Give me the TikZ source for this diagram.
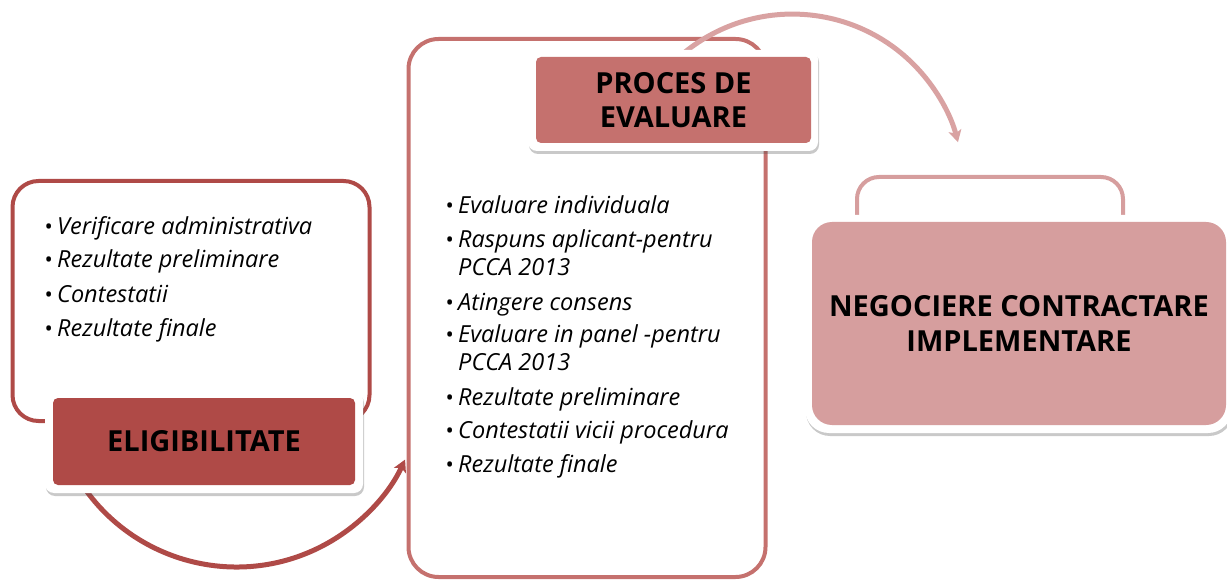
\documentclass[tikz,border=0pt]{standalone}
\usepackage{fontspec}
\setmainfont{Open Sans}
\usetikzlibrary{shadows,arrows.meta}
\definecolor{cA}{HTML}{AF4A47}
\definecolor{cB}{HTML}{C5716E}
\definecolor{cC}{HTML}{D69E9E}
\definecolor{cD}{HTML}{D9A2A2}
\tikzset{
  outl/.style={draw, line width=4pt, rounded corners=26pt, inner sep=0pt},
  frm/.style={fill=white, rounded corners=9pt, inner sep=0pt,
    drop shadow={shadow xshift=1pt, shadow yshift=-3pt, opacity=0.3, fill=black!70}},
  fil/.style={rounded corners=5pt, inner sep=0pt, align=center, text=black,
    font=\fontsize{29}{34.5}\selectfont\bfseries},
  lt/.style={anchor=base west, inner sep=0pt, font=\fontsize{23.5}{28}\selectfont\itshape},
  bt/.style={anchor=base east, inner sep=0pt, font=\fontsize{22}{26}\selectfont},
  arr/.style={line width=5pt, -{Stealth[length=12pt,width=13pt,inset=3pt]}}
}
\begin{document}
\begin{tikzpicture}[x=1pt,y=-1pt]
\useasboundingbox (0,0) rectangle (1227,580);
% outlines
\node[outl, draw=cA, minimum width=357pt, minimum height=240pt] (box1) at (191,301) {};
\node[outl, draw=cB, minimum width=357pt, minimum height=538pt, rounded corners=30pt] (box2) at (587,308) {};
\node[outl, draw=cC, minimum width=266pt, minimum height=122pt, rounded corners=22pt] (box3) at (990,238) {};
% arcs
\coordinate (a1s) at (75.4,474);
\draw[arr, cA] (a1s) arc[start angle=150, end angle=25, radius=186];
\coordinate (a2s) at (678,58);
\draw[arr, cD] (a2s) arc[start angle=228, end angle=345.5, radius=171];
% frames
\node[frm, minimum width=318pt, minimum height=102pt] (elframe) at (204,442) {};
\node[frm, minimum width=290pt, minimum height=101pt] (prframe) at (673,100.5) {};
\node[frm, minimum width=427pt, minimum height=218pt, rounded corners=24pt] (neframe) at (1018.5,324) {};
% fills
\node[fil, fill=cA, minimum width=302pt, minimum height=87pt] (elig) at (204,441.5) {ELIGIBILITATE};
\node[fil, fill=cB, minimum width=275pt, minimum height=86pt] (proc) at (673.5,100) {PROCES DE\\EVALUARE};
\node[fil, fill=cC, minimum width=414pt, minimum height=203pt, rounded corners=20pt] (neg) at (1019,323.5) {NEGOCIERE CONTRACTARE\\IMPLEMENTARE};
% list 1
\foreach \t/\y [count=\i] in {Verificare administrativa/235, Rezultate preliminare/268, Contestatii/302, Rezultate finale/336}{
  \node[bt] (b1b\i) at (53,\y) {•};
  \node[lt] (b1t\i) at (57,\y) {\t};
}
% list 2
\foreach \t/\y [count=\i] in {Evaluare individuala/214, Raspuns aplicant-pentru/248, Atingere consens/310, Evaluare in panel -pentru/342, Rezultate preliminare/405, Contestatii vicii procedura/438, Rezultate finale/472}{
  \node[bt] (b2b\i) at (454,\y) {•};
  \node[lt] (b2t\i) at (458,\y) {\t};
}
\node[lt] (b2w1) at (458,276) {PCCA 2013};
\node[lt] (b2w2) at (458,370) {PCCA 2013};
\end{tikzpicture}
\end{document}
